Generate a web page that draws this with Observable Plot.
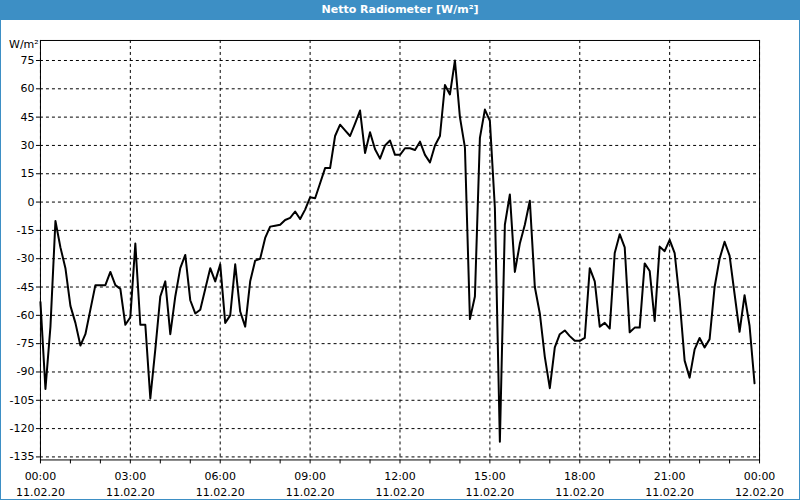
<!DOCTYPE html>
<html><head><meta charset="utf-8">
<script src="https://cdn.jsdelivr.net/npm/d3@7"></script>
<script src="https://cdn.jsdelivr.net/npm/@observablehq/plot@0.6"></script>
<style>
body{margin:0;background:#fff}
#win{position:relative;width:800px;height:500px;box-sizing:border-box;border:1px solid #3d8fc5;border-top:none;background:#fff;font-family:"DejaVu Sans",sans-serif;overflow:hidden}
#title{position:absolute;left:-1px;top:0;width:800px;height:20px;background:#3d8fc5;color:#fff;font-weight:bold;font-size:11px;text-align:center;line-height:20px}
#unit{position:absolute;left:8px;top:38px;font-size:11px;color:#000}
#chart{position:absolute;left:-1px;top:20px}
</style></head>
<body>
<div id="win">
  <div id="title">Netto Radiometer [W/m²]</div>
  <div id="unit">W/m²</div>
  <div id="chart"></div>
</div>
<script>
// Data: Netto radiometer readings, 10-minute steps starting 11.02.2020 00:00
const startTime = "2020-02-11T00:00:00Z";
const endTime = "2020-02-12T00:00:00Z";
const stepMinutes = 10;
const values = [
  -53, -99, -66, -10, -24, -35, -55, -64, -76, -70,
  -57, -44, -44, -44, -37, -44, -46, -65, -61, -22,
  -65, -65, -104, -78, -50, -42, -70, -50, -35, -28,
  -52, -59, -57, -46, -35, -42, -33, -64, -60, -33,
  -58, -66, -42, -31, -30, -19, -13, -12.5, -12, -9.5,
  -8.4, -5, -9, -4, 2.5, 2, 10, 18, 18, 35,
  41, 38, 35, 41.6, 48.5, 26, 37, 28, 23, 30,
  32.6, 25, 25, 28.5, 28.5, 27.6, 32, 25, 21, 30,
  35, 62, 57, 75, 45, 29, -62, -50, 34, 49,
  43, -3, -127, -12, 4, -37, -22, -12, 0.7, -45,
  -59, -82, -98.6, -77, -70, -68, -71, -73.5, -73.5, -72,
  -35, -42, -66, -64, -67, -27, -17, -24, -69, -66.5,
  -66.5, -32.5, -36.5, -63, -23.6, -26, -20, -27, -52, -84,
  -93, -78, -72, -77, -72.6, -45, -30, -21, -28.4, -48.7,
  -68.7, -49.3, -65.5, -96
];
const yTicks = [-135, -120, -105, -90, -75, -60, -45, -30, -15, 0, 15, 30, 45, 60, 75];
const xMajorHours = [0, 3, 6, 9, 12, 15, 18, 21, 24];
const xMinorHours = [0,1,2,3,4,5,6,7,8,9,10,11,12,13,14,15,16,17,18,19,20,21,22,23,24];
const yDomain = [-136.6, 85.6];

const start = new Date(startTime);
const end = new Date(endTime);
const hourDate = h => new Date(start.getTime() + h * 3600000);
const data = values.map((v, i) => ({t: new Date(start.getTime() + i * stepMinutes * 60000), v}));
const xMajor = xMajorHours.map(hourDate);
const xMinor = xMinorHours.map(hourDate);

const chart = Plot.plot({
  width: 800, height: 480,
  marginLeft: 40, marginRight: 40, marginTop: 20, marginBottom: 40,
  style: {fontFamily: "DejaVu Sans, sans-serif", fontSize: "11px", color: "#000", background: "transparent", overflow: "visible"},
  x: {type: "utc", domain: [start, end]},
  y: {domain: yDomain},
  marks: [
    Plot.gridX(xMajor, {stroke: "#000", strokeOpacity: 1, strokeDasharray: "3,3"}),
    Plot.gridY(yTicks, {stroke: "#000", strokeOpacity: 1, strokeDasharray: "3,3"}),
    Plot.frame({stroke: "#000"}),
    Plot.axisY(yTicks, {tickSize: 4, tickPadding: 2, tickFormat: d => String(d), label: null, fontSize: 11}),
    Plot.axisX(xMinor, {tickSize: 4, tickFormat: () => "", label: null}),
    Plot.axisX(xMajor, {tickSize: 0, tickPadding: 12, tickFormat: d3.utcFormat("%H:%M"), label: null, fontSize: 11}),
    Plot.axisX(xMajor, {tickSize: 0, tickPadding: 28, tickFormat: d => d3.utcFormat("%d.%m.%y")(new Date(d.getTime() - (d.getTime() === end.getTime() ? 0 : 0))), label: null, fontSize: 11}),
    Plot.line(data, {x: "t", y: "v", stroke: "#000", strokeWidth: 2})
  ]
});
document.getElementById("chart").appendChild(chart);
</script>
</body></html>
